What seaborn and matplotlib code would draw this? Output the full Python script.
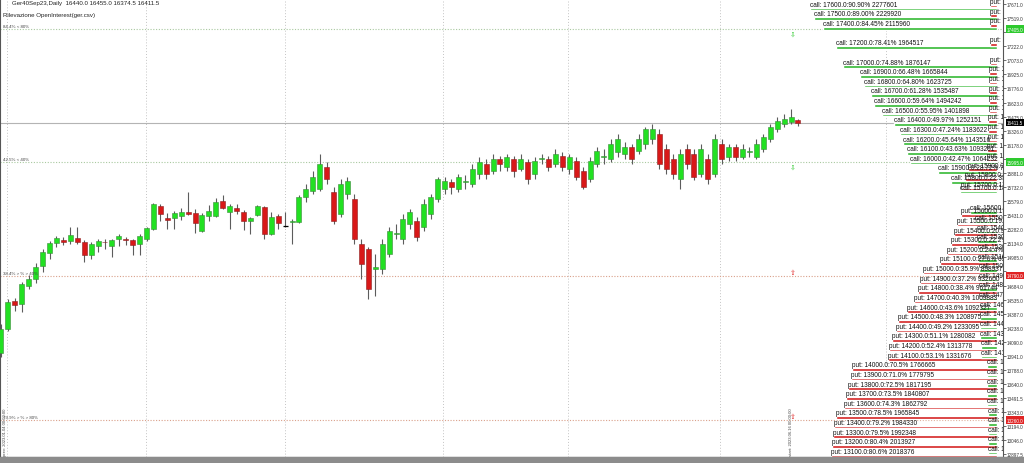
import numpy as np
import pandas as pd
import matplotlib
matplotlib.use("Agg")
import matplotlib.pyplot as plt
import matplotlib.transforms as mtransforms
from matplotlib.patches import Rectangle
import seaborn as sns

# Daily candles Ger40 Sep23
opens = [13972, 14226, 14523, 14491, 14682, 14756, 14894, 15032, 15138, 15169,
         15159, 15190, 15148, 15010, 15106, 15148, 15106, 15180, 15180, 15169,
         15127, 15180, 15286, 15530, 15403, 15403, 15424, 15466, 15456, 15265,
         15424, 15424, 15583, 15466, 15509, 15466, 15371, 15434, 15519, 15233,
         15424, 15318, 15360, 15360, 15625, 15689, 15710, 15943, 15678, 15445,
         15657, 15604, 15127, 15074, 14862, 14862, 15021, 15233, 15180, 15339,
         15371, 15307, 15445, 15604, 15710, 15784, 15710, 15784, 15763, 15869,
         15975, 15901, 16028, 15943, 16028, 15922, 15996, 15869, 16028, 16028,
         15975, 16060, 15922, 16007, 15901, 15816, 15975, 16049, 16028, 16102,
         16081, 16155, 16113, 16187, 16240, 16293, 16134, 16028, 15816, 16134,
         16081, 15869, 16028, 15869, 16187, 16049, 16155, 16049, 16102, 16049,
         16134, 16240, 16346, 16399, 16420, 16440.0]
highs = [14279, 14544, 14555, 14724, 14798, 14926, 15074, 15159, 15212, 15201,
         15307, 15307, 15169, 15148, 15180, 15180, 15180, 15233, 15201, 15180,
         15233, 15307, 15562, 15551, 15456, 15477, 15509, 15678, 15498, 15456,
         15540, 15615, 15646, 15551, 15551, 15488, 15413, 15540, 15530, 15466,
         15445, 15466, 15392, 15646, 15763, 15901, 16081, 15996, 15731, 15816,
         15837, 15657, 15180, 15095, 15021, 15180, 15307, 15339, 15445, 15498,
         15413, 15604, 15657, 15837, 15837, 15816, 15869, 15858, 15975, 16049,
         16028, 16081, 16060, 16081, 16060, 16081, 16028, 16049, 16081, 16060,
         16134, 16102, 16081, 16049, 15943, 16049, 16155, 16134, 16240, 16293,
         16208, 16187, 16293, 16367, 16399, 16346, 16187, 16081, 16134, 16187,
         16134, 16187, 16081, 16293, 16240, 16187, 16187, 16187, 16155, 16240,
         16293, 16399, 16473, 16505, 16558, 16455.0]
lows = [13929, 14205, 14417, 14406, 14650, 14714, 14830, 14968, 15095, 15116,
        15127, 15127, 14936, 14968, 15042, 15074, 14989, 15106, 15116, 15010,
        15010, 15159, 15275, 15371, 15286, 15286, 15381, 15434, 15244, 15254,
        15371, 15413, 15498, 15286, 15445, 15275, 15233, 15424, 15180, 15222,
        15286, 15307, 15127, 15350, 15572, 15657, 15689, 15763, 15339, 15413,
        15604, 15127, 14756, 14544, 14576, 14809, 14989, 15180, 15127, 15286,
        15159, 15265, 15392, 15572, 15657, 15657, 15678, 15710, 15731, 15816,
        15816, 15869, 15901, 15901, 15837, 15901, 15763, 15816, 15975, 15901,
        15943, 15901, 15869, 15805, 15710, 15784, 15943, 15975, 15996, 16049,
        16028, 15975, 16081, 16134, 16187, 15922, 15869, 15816, 15710, 15922,
        15805, 15837, 15763, 15837, 15975, 16007, 16007, 16028, 16049, 16028,
        16102, 16208, 16314, 16367, 16399, 16374.5]
closes = [14226, 14512, 14480, 14703, 14756, 14883, 15042, 15138, 15190, 15148,
          15222, 15148, 15010, 15127, 15159, 15143, 15169, 15212, 15169, 15116,
          15212, 15297, 15551, 15445, 15381, 15456, 15466, 15445, 15350, 15434,
          15477, 15572, 15509, 15530, 15477, 15371, 15403, 15530, 15233, 15413,
          15350, 15318, 15371, 15625, 15710, 15837, 15975, 15816, 15371, 15763,
          15795, 15180, 14915, 14650, 14883, 15127, 15265, 15244, 15392, 15466,
          15201, 15551, 15625, 15816, 15795, 15731, 15837, 15795, 15922, 15996,
          15869, 16028, 15975, 16049, 15901, 16028, 15816, 16007, 16038, 15943,
          16081, 15943, 16049, 15837, 15731, 16007, 16113, 16060, 16187, 16240,
          16155, 16028, 16240, 16346, 16346, 15975, 15922, 15869, 16081, 15975,
          15837, 16134, 15816, 16240, 16028, 16155, 16049, 16134, 16113, 16187,
          16261, 16367, 16431, 16452, 16473, 16411.5]

# open interest per strike
strikes = [17600, 17500, 17400, 17200, 17000, 16900, 16800, 16700, 16600, 16500,
           16400, 16300, 16200, 16100, 16000, 15900, 15800, 15700, 15600, 15500,
           15400, 15300, 15200, 15100, 15000, 14900, 14800, 14700, 14600, 14500,
           14400, 14300, 14200, 14100, 14000, 13900, 13800, 13700, 13600, 13500,
           13400, 13300, 13200, 13100]
call_oi = [2277601, 2229920, 2115960, 1964517, 1876147, 1665844, 1623725, 1535487, 1494242, 1401898,
           1252151, 1183622, 1143516, 1093291, 1064232, 719612, 560000, 455000, 330000, 265000,
           245000, 240000, 232000, 228000, 225000, 222000, 220000, 215000, 212000, 210000,
           208000, 205000, 200000, 196000, 125000, 122000, 120000, 118000, 116000, 115000,
           112000, 110000, 108000, 105000]
put_oi = [80000, 82000, 85000, 88000, 90000, 92000, 95000, 98000, 100000, 103000,
          106000, 110000, 115000, 120000, 126000, 355000, 385000, 436000, 443000, 491000,
          523000, 556000, 610345, 692651, 898937, 932600, 961744, 1009883, 1092327, 1208975,
          1233095, 1280082, 1313778, 1331676, 1766665, 1779795, 1817195, 1840807, 1862792, 1965845,
          1984330, 1992348, 2013927, 2018376]
oi_base = 2505600

price_ticks = [17671.0, 17519.0, 17370.5, 17222.0, 17073.0, 16925.0, 16776.0, 16623.0, 16475.0,
               16326.0, 16178.0, 16029.5, 15881.0, 15732.0, 15579.0, 15431.0, 15282.0, 15134.0,
               14985.0, 14837.0, 14684.0, 14535.0, 14387.0, 14238.0, 14090.0, 13941.0, 13788.0,
               13640.0, 13491.5, 13343.0, 13194.0, 13046.0, 12897.5]
levels = [17405.0, 15995.0, 14790.0, 13260.0]
level_labels = ["84.4% < 80%", "42.5% < 40%", "38.4% > % > 40%", "79.9% > % > 80%"]
level_colors = ["#a9c9a0", "#a9c9a0", "#d9a08a", "#d9a08a"]
level_box = ["#2ec92e", "#2ec92e", "#e02424", "#e02424"]
month_lines = [0.87, 20.9, 41.0, 63.8, 81.8, 103.8, 127.7]
last_price = 16411.5

sns.set_style("white")
plt.rcParams["font.family"] = ["Liberation Sans", "DejaVu Sans"]

fig = plt.figure(figsize=(10.24, 4.64), dpi=100)
pos = [0, 6 / 464, 1003 / 1024, 458 / 464]
ax = fig.add_axes(pos)

df = pd.DataFrame({"open": opens, "high": highs, "low": lows, "close": closes})
df["i"] = np.arange(len(df))
up = df[df.close > df.open]
down = df[df.close < df.open]
flat = df[df.close == df.open]

# grid + levels
for m in month_lines:
    ax.axvline(m, color="#c4c4c4", lw=0.7, ls=(0, (1, 2)), zorder=0)
for lv, c in zip(levels, level_colors):
    ax.axhline(lv, color=c, lw=0.8, ls=(0, (1, 1.5)), zorder=1)
ax.axhline(last_price, color="#b4b4b4", lw=0.8, zorder=1)

# candles
ax.vlines(df.i, df.low, df.high, color="#5c5c5c", lw=0.8, zorder=2)
ax.bar(up.i, up.close - up.open, bottom=up.open, width=0.72, color="#22e022",
       edgecolor="#3a8a3a", lw=0.4, zorder=3)
ax.bar(down.i, down.open - down.close, bottom=down.close, width=0.72, color="#d81818",
       edgecolor="#8a2020", lw=0.4, zorder=3)
ax.hlines(flat.close, flat.i - 0.36, flat.i + 0.36, color="black", lw=0.9, zorder=3)

ax.set_xlim(-0.144, 144.59)
ax.set_ylim(12869, 17724)
ax.set_xticks([])
ax.set_yticks(price_ticks)
hidden = [min(abs(t - lv) for lv in levels) < 55 for t in price_ticks]
ax.set_yticklabels(["" if h else f"{t:.1f}" for t, h in zip(price_ticks, hidden)])
ax.yaxis.tick_right()
ax.tick_params(axis="y", labelsize=3.3, length=2, width=0.5, pad=1, colors="#333333")
ax.spines["top"].set_visible(False)
for s in ["left", "right", "bottom"]:
    ax.spines[s].set_color("#555555")
    ax.spines[s].set_linewidth(0.8)

# level texts and axis highlight boxes
tr = mtransforms.blended_transform_factory(ax.transAxes, ax.transData)
for lv, lab, bc in zip(levels, level_labels, level_box):
    ax.text(0.003, lv + 12, lab, transform=tr, fontsize=3.2, color="#444444", va="bottom")
    ax.text(1.004, lv, f"{lv:.1f}", transform=tr, fontsize=3.3, color="white", va="center",
            ha="left", clip_on=False,
            bbox=dict(boxstyle="square,pad=0.25", fc=bc, ec="none"))
ax.text(1.004, last_price, f"{last_price:.1f}", transform=tr, fontsize=3.3, color="white",
        va="center", ha="left", clip_on=False,
        bbox=dict(boxstyle="square,pad=0.25", fc="black", ec="none"))

# small level markers at the start line
for lv, bc in zip(levels, level_box):
    glyph = "\u21e9" if bc == "#2ec92e" else "\u21e7"
    off = -45 if bc == "#2ec92e" else 45
    ax.text(114.3, lv + off, glyph, fontsize=5, color=bc, ha="center", va="center",
            family="DejaVu Sans")

ax.text(0.87, 12885, "prev: 2023.01.04 00:00:00", rotation=90, fontsize=3, color="#444444",
        ha="right", va="bottom")
ax.text(114.3, 12885, "start: 2023.06.16 00:00:00", rotation=90, fontsize=3, color="#444444",
        ha="right", va="bottom")

ax.text(0.012, 0.997, "Ger40Sep23,Daily  16440.0 16455.0 16374.5 16411.5", transform=ax.transAxes,
        fontsize=4.4, va="top", color="#222222")
ax.text(0.003, 0.972, "Rilevazione OpenInterest(ger.csv)", transform=ax.transAxes,
        fontsize=4.4, va="top", color="#222222")

# open interest overlay
ax_oi = fig.add_axes(pos, frameon=False)
oi = pd.DataFrame({"strike": strikes, "call": call_oi, "put": put_oi})
call_major = oi["call"] >= oi["put"]
# put-dominated rows sit a little lower, the minor bar sits just above the major one
major_y = np.where(call_major, oi["strike"], oi["strike"] - 145)
major = pd.DataFrame({"strike": oi["strike"], "y": major_y,
                      "oi": np.where(call_major, oi["call"], oi["put"]),
                      "side": np.where(call_major, "call", "put")})
minor = pd.DataFrame({"strike": oi["strike"], "y": major_y + 30,
                      "oi": np.where(call_major, oi["put"], oi["call"]),
                      "side": np.where(call_major, "put", "call")})
pal = {"call": "#2fb82f", "put": "#d42020"}
for part in (major, minor):
    sns.barplot(data=part, x="oi", y="y", hue="side", palette=pal, orient="y",
                native_scale=True, dodge=False, width=0.27, errorbar=None,
                legend=False, saturation=1, ax=ax_oi)
    for _, r in part.iterrows():
        dec = 2 if r["side"] == "call" else 1
        txt = f"{r['side']}: {r['strike']:.1f}:{r['oi'] / oi_base * 100:.{dec}f}% {int(r['oi'])}"
        ax_oi.text(r["oi"], r["y"] + 12, txt, fontsize=4.7, ha="left", va="bottom",
                   color="#111111", clip_on=True)

ax_oi.set_xlim(12.143e6, -7.3e4)
ax_oi.set_ylim(12945, 17704)
ax_oi.set_axis_off()

fig.add_artist(Rectangle((0, 0), 1, 6 / 464, transform=fig.transFigure, color="#8c8c8c"))

fig.savefig("out.png", dpi=100)
